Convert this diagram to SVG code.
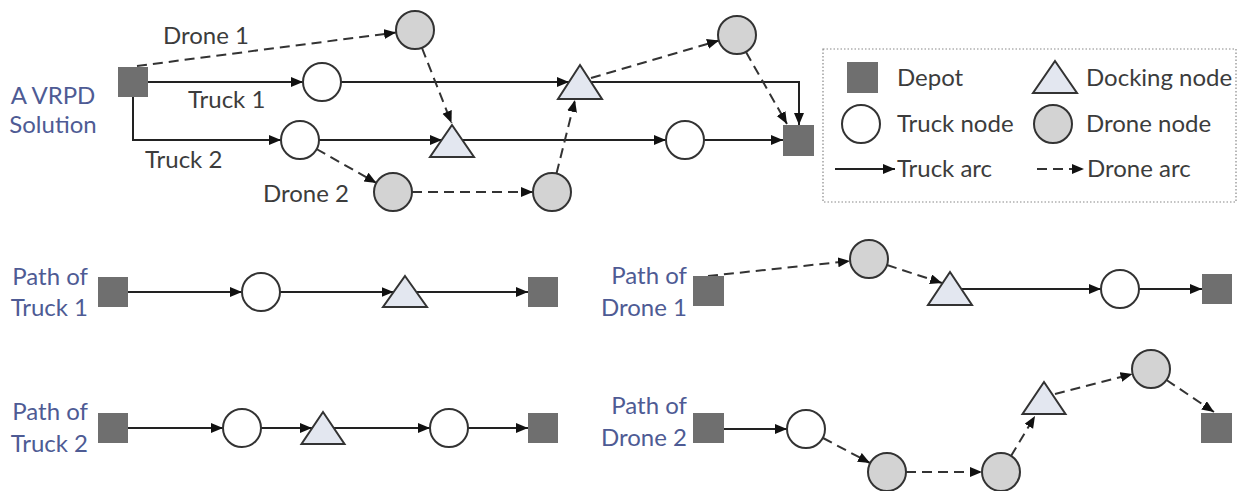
<svg xmlns="http://www.w3.org/2000/svg" width="1239" height="491" viewBox="0 0 1239 491">
<defs>
<marker id="ah" markerUnits="userSpaceOnUse" markerWidth="13" markerHeight="11" refX="12" refY="5" orient="auto">
<path d="M0,0 L12,5 L0,10 z" fill="#111"/>
</marker>
<style>
.depot{fill:#6f6f6f;}
.tn{fill:#fff;stroke:#333;stroke-width:2;}
.dn{fill:#d3d3d3;stroke:#333;stroke-width:2;}
.dk{fill:#e3e7f0;stroke:#333;stroke-width:2;stroke-linejoin:miter;}
.ta{fill:none;stroke:#222;stroke-width:2;marker-end:url(#ah);}
.da{fill:none;stroke:#333;stroke-width:2;stroke-dasharray:10 6;marker-end:url(#ah);}
.lbl{font-family:Lato,"Liberation Sans",sans-serif;font-size:24px;fill:#3c3c3c;}
.blue{font-family:Lato,"Liberation Sans",sans-serif;font-size:24px;fill:#4e5b94;}
</style>
</defs>
<rect width="1239" height="491" fill="#fff"/>

<!-- Top: A VRPD solution -->
<g id="title-top"><text class="blue" x="53" y="104" text-anchor="middle">A VRPD</text><text class="blue" x="53" y="133" text-anchor="middle">Solution</text></g>
<g id="top-labels">
<text class="lbl" x="163" y="44">Drone 1</text>
<text class="lbl" x="188" y="108">Truck 1</text>
<text class="lbl" x="145" y="168">Truck 2</text>
<text class="lbl" x="263" y="202">Drone 2</text>
</g>

<g id="connectors-top">
<path class="da" d="M137,66 L396,32.5"/>
<path class="ta" d="M148,82 L303,82"/>
<path class="ta" d="M341,82 L569,82"/>
<path class="ta" d="M591,82 L799,82 L799,125"/>
<path class="ta" d="M133,97 L133,140 L281,140"/>
<path class="ta" d="M319,140 L442,140"/>
<path class="ta" d="M462,140 L666,140"/>
<path class="ta" d="M704,140 L783,140"/>
<path class="da" d="M422,48 L451.5,123"/>
<path class="da" d="M591,78 L719,40.5"/>
<path class="da" d="M746,52 L787,124"/>
<path class="da" d="M316.5,149 L376.5,183"/>
<path class="da" d="M412,192 L533,192"/>
<path class="da" d="M556.5,173.5 L575,100"/>
</g>

<g id="top-depot-start"><rect class="depot" x="118" y="67" width="30" height="30"/></g>
<g id="top-truck1-node"><circle class="tn" cx="322" cy="82" r="19"/></g>
<g id="top-drone1-node-a"><circle class="dn" cx="415" cy="30" r="19"/></g>
<g id="top-dock1"><polygon class="dk" points="580,65 602,99 558,99"/></g>
<g id="top-drone1-node-b"><circle class="dn" cx="737" cy="35" r="19"/></g>
<g id="top-depot-end"><rect class="depot" x="783" y="125" width="31" height="31"/></g>
<g id="top-truck2-node-a"><circle class="tn" cx="300" cy="140" r="19"/></g>
<g id="top-dock2"><polygon class="dk" points="452,125 474,157 430,157"/></g>
<g id="top-truck2-node-b"><circle class="tn" cx="685" cy="140" r="19"/></g>
<g id="top-drone2-node-a"><circle class="dn" cx="393" cy="192" r="19"/></g>
<g id="top-drone2-node-b"><circle class="dn" cx="552" cy="192" r="19"/></g>

<!-- Legend -->
<g id="legend">
<rect x="823" y="49" width="413" height="153" fill="none" stroke="#888" stroke-width="1.2" stroke-dasharray="1.5 2"/>
<rect class="depot" x="847" y="62" width="31" height="31"/>
<text class="lbl" x="897" y="86">Depot</text>
<polygon class="dk" points="1055,61 1077,93 1033,93"/>
<text class="lbl" x="1086" y="86">Docking node</text>
<circle class="tn" cx="861" cy="124" r="19"/>
<text class="lbl" x="897" y="132">Truck node</text>
<circle class="dn" cx="1053" cy="124" r="19"/>
<text class="lbl" x="1086" y="132">Drone node</text>
<path class="ta" d="M835,169 L895,169"/>
<text class="lbl" x="897" y="177">Truck arc</text>
<path class="da" d="M1037,169 L1084,169"/>
<text class="lbl" x="1087" y="177">Drone arc</text>
</g>

<!-- Path of Truck 1 -->
<g id="label-truck1"><text class="blue" x="88" y="285" text-anchor="end">Path of</text><text class="blue" x="88" y="316" text-anchor="end">Truck 1</text></g>
<g id="connectors-truck1">
<path class="ta" d="M128,292 L242,292"/>
<path class="ta" d="M280,292 L393.5,292"/>
<path class="ta" d="M416.5,292 L528,292"/>
</g>
<g id="t1-depot-a"><rect class="depot" x="98" y="277" width="30" height="30"/></g>
<g id="t1-node"><circle class="tn" cx="261" cy="292" r="19"/></g>
<g id="t1-dock"><polygon class="dk" points="405,276 427,307 383,307"/></g>
<g id="t1-depot-b"><rect class="depot" x="528" y="277" width="30" height="30"/></g>

<!-- Path of Drone 1 -->
<g id="label-drone1"><text class="blue" x="687" y="284" text-anchor="end">Path of</text><text class="blue" x="687" y="316" text-anchor="end">Drone 1</text></g>
<g id="connectors-drone1">
<path class="da" d="M708,276 L850,261"/>
<path class="da" d="M887,265 L942,283"/>
<path class="ta" d="M961,289 L1101,289"/>
<path class="ta" d="M1139,289 L1202,289"/>
</g>
<g id="d1-depot-a"><rect class="depot" x="693" y="276" width="31" height="30"/></g>
<g id="d1-drone-node"><circle class="dn" cx="869" cy="259" r="19"/></g>
<g id="d1-dock"><polygon class="dk" points="950,272 972,305 928,305"/></g>
<g id="d1-truck-node"><circle class="tn" cx="1120" cy="289" r="19"/></g>
<g id="d1-depot-b"><rect class="depot" x="1202" y="274" width="30" height="30"/></g>

<!-- Path of Truck 2 -->
<g id="label-truck2"><text class="blue" x="88" y="420" text-anchor="end">Path of</text><text class="blue" x="88" y="452" text-anchor="end">Truck 2</text></g>
<g id="connectors-truck2">
<path class="ta" d="M128,428 L223,428"/>
<path class="ta" d="M261,428 L312,428"/>
<path class="ta" d="M334,428 L430,428"/>
<path class="ta" d="M468,428 L528,428"/>
</g>
<g id="t2-depot-a"><rect class="depot" x="98" y="413" width="30" height="30"/></g>
<g id="t2-node-a"><circle class="tn" cx="242" cy="428" r="19"/></g>
<g id="t2-dock"><polygon class="dk" points="323,412 344.5,444 301.5,444"/></g>
<g id="t2-node-b"><circle class="tn" cx="449" cy="428" r="19"/></g>
<g id="t2-depot-b"><rect class="depot" x="528" y="413" width="30" height="30"/></g>

<!-- Path of Drone 2 -->
<g id="label-drone2"><text class="blue" x="687" y="414" text-anchor="end">Path of</text><text class="blue" x="687" y="446" text-anchor="end">Drone 2</text></g>
<g id="connectors-drone2">
<path class="ta" d="M724,429 L787,429"/>
<path class="da" d="M823,438 L870,463"/>
<path class="da" d="M906,472 L982,472"/>
<path class="da" d="M1011,456 L1035,416"/>
<path class="da" d="M1055,394 L1132.5,374"/>
<path class="da" d="M1166.5,380 L1214,412"/>
</g>
<g id="d2-depot-a"><rect class="depot" x="693" y="413" width="31" height="30"/></g>
<g id="d2-truck-node"><circle class="tn" cx="806" cy="429" r="19"/></g>
<g id="d2-drone-node-a"><circle class="dn" cx="887" cy="472" r="19"/></g>
<g id="d2-drone-node-b"><circle class="dn" cx="1001" cy="472" r="19"/></g>
<g id="d2-dock"><polygon class="dk" points="1044,382 1065.5,414 1022.5,414"/></g>
<g id="d2-drone-node-c"><circle class="dn" cx="1151" cy="369" r="19"/></g>
<g id="d2-depot-b"><rect class="depot" x="1201" y="413" width="31" height="30"/></g>
</svg>
